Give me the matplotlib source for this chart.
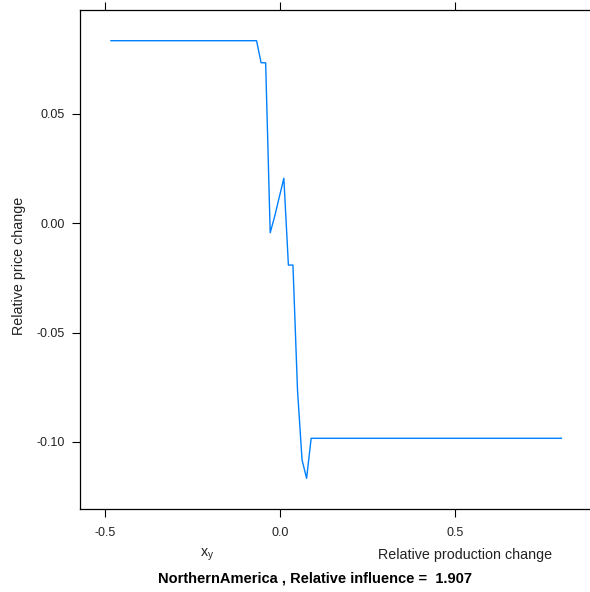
import numpy as np
import matplotlib
matplotlib.use("Agg")
import matplotlib.pyplot as plt

# partial dependence curve (break points only)
prod_change = [-0.483, -0.067, -0.054, -0.041, -0.028, -0.015, -0.002,
               0.011, 0.024, 0.037, 0.050, 0.063, 0.076, 0.089, 0.804]
price_change = [0.0835, 0.0835, 0.0734, 0.0734, -0.0043, 0.0033, 0.0120,
                0.0206, -0.0191, -0.0191, -0.0762, -0.1082, -0.1166, -0.0983, -0.0983]

x_ticks = [-0.5, 0.0, 0.5]
x_ticklabels = ["-0.5", "0.0", "0.5"]
y_ticks = [0.05, 0.0, -0.05, -0.10]
y_ticklabels = ["0.05", "0.00", "-0.05", "-0.10"]

region = "NorthernAmerica"
rel_influence = 1.907

plt.rcParams['font.family'] = ['Liberation Sans', 'DejaVu Sans']

W, H = 590, 592
fig = plt.figure(figsize=(W / 100, H / 100), dpi=100)

# panel box: left 80px, top 10px, bottom 509px, right edge runs off the image
ax = fig.add_axes([80 / W, (H - 509) / H, (600 - 80) / W, (509 - 10) / H])
ax.plot(prod_change, price_change, color='#0080ff', linewidth=1.0)

ax.set_xlim((80 - 280) / 350, (600 - 280) / 350)
ax.set_ylim((223.3 - 509) / 2187, (223.3 - 10) / 2187)

ax.set_xticks(x_ticks)
ax.set_xticklabels(x_ticklabels)
ax.set_yticks(y_ticks)
ax.set_yticklabels(y_ticklabels)
ax.tick_params(axis='both', direction='out', length=6, width=0.8,
               labelsize=9, colors='black', labelcolor='#222222', pad=5)
ax.tick_params(axis='x', top=True, labeltop=False, pad=7)
ax.tick_params(axis='y', right=False)
for sp in ax.spines.values():
    sp.set_linewidth(0.9)
    sp.set_color('black')

ax.set_ylabel("Relative price change", fontsize=10.3, color='#222222')
ax.yaxis.set_label_coords((26 - 80) / (600 - 80), (509 - 266) / (509 - 10))

fig.text(207 / W, 1 - 555 / H, r"$\mathregular{x_y}$", fontsize=10.3,
         ha='center', va='center', color='#222222')
fig.text(465 / W, 1 - 555 / H, "Relative production change", fontsize=10.3,
         ha='center', va='center', color='#222222')
fig.text(314.5 / W, 1 - 578.5 / H,
         f"{region} , Relative influence =  {rel_influence:.3f}",
         fontsize=10.5, fontweight='bold', ha='center', va='center')

fig.savefig("out.png", dpi=100)
